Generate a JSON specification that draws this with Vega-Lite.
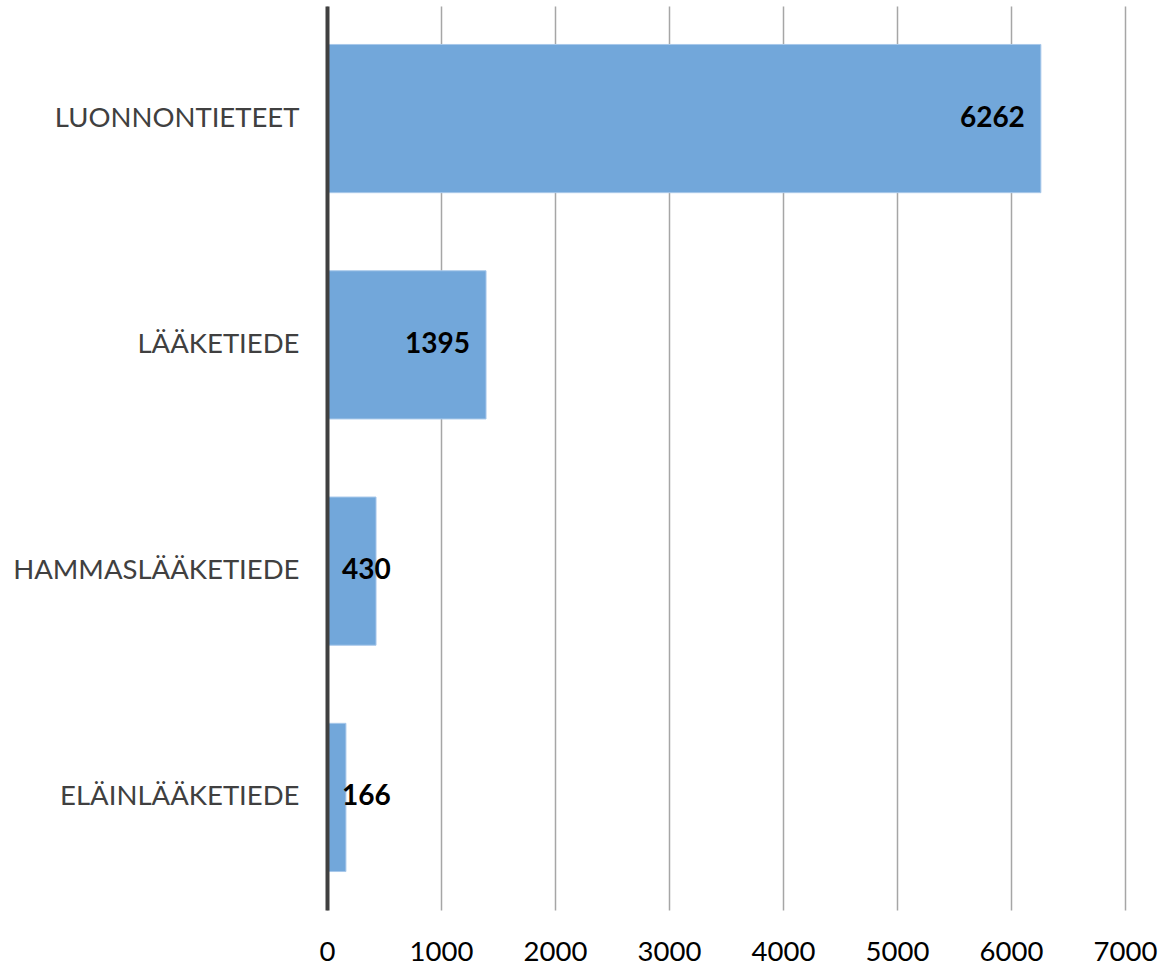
{
  "$schema": "https://vega.github.io/schema/vega-lite/v6.json",
  "autosize": "none",
  "width": 798,
  "height": 904,
  "padding": {"left": 327, "top": 6, "right": 38, "bottom": 57},
  "background": "white",
  "config": {"view": {"stroke": null}, "font": "Lato"},
  "data": {"values": [
    {"ala": "LUONNONTIETEET", "arvo": 6262},
    {"ala": "LÄÄKETIEDE", "arvo": 1395},
    {"ala": "HAMMASLÄÄKETIEDE", "arvo": 430},
    {"ala": "ELÄINLÄÄKETIEDE", "arvo": 166}
  ]},
  "encoding": {
    "y": {
      "field": "ala", "type": "nominal", "sort": null, "title": null,
      "scale": {"paddingInner": 0.345, "paddingOuter": 0.17},
      "axis": {"domainColor": "#404040", "domainWidth": 4, "ticks": false, "labelFontSize": 27.5, "labelColor": "#404040", "labelPadding": 28, "labelFont": "Lato", "labelLimit": 400, "zindex": 1}
    }
  },
  "layer": [
    {
      "mark": {"type": "bar", "color": "#72a7da", "stroke": "#a8c8ea", "strokeWidth": 1},
      "encoding": {
        "x": {
          "field": "arvo", "type": "quantitative", "title": null,
          "scale": {"domain": [0, 7000], "nice": false},
          "axis": {"values": [0, 1000, 2000, 3000, 4000, 5000, 6000, 7000], "format": "d", "grid": true, "gridColor": "#a6a6a6", "gridWidth": 1.5, "domain": false, "ticks": false, "labelFontSize": 27.5, "labelColor": "#000000", "labelPadding": 28, "labelFont": "Lato", "labelFlush": false}
        }
      }
    },
    {
      "transform": [{"calculate": "max(datum.arvo, 700)", "as": "paikka"}],
      "mark": {"type": "text", "align": "right", "baseline": "middle", "dx": -16, "fontSize": 28, "fontWeight": "bold", "color": "#000000", "font": "Lato"},
      "encoding": {
        "x": {"field": "paikka", "type": "quantitative"},
        "text": {"field": "arvo", "type": "quantitative", "format": "d"}
      }
    }
  ]
}
